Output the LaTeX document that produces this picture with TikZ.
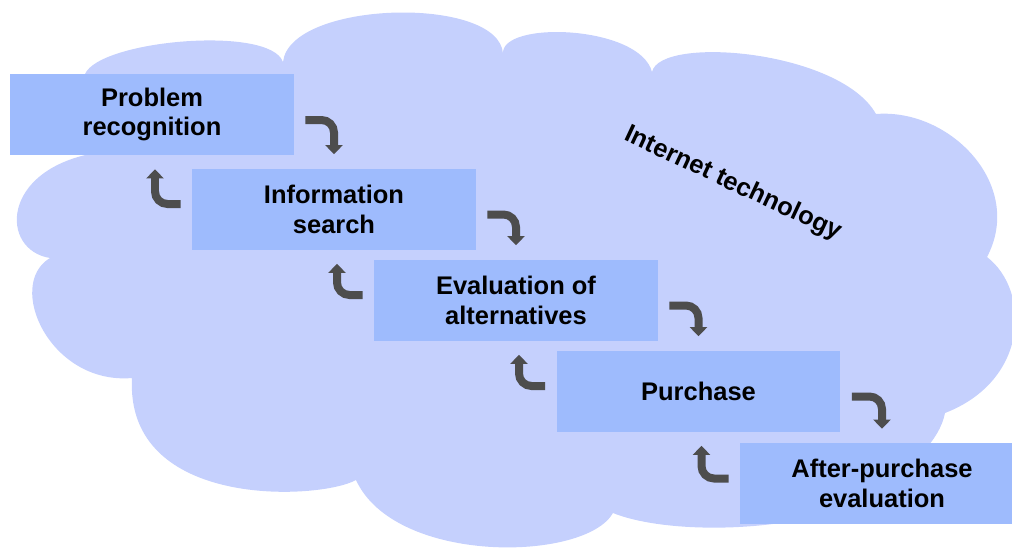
\documentclass[tikz,border=0pt]{standalone}
\usepackage{fontspec}
\setmainfont{Liberation Sans}
\usetikzlibrary{arrows.meta}
\definecolor{cloudblue}{HTML}{C5D0FD}
\definecolor{boxblue}{HTML}{9EBBFD}
\definecolor{arrowgray}{HTML}{4D4D4D}
\begin{document}
\begin{tikzpicture}[x=0.02cm,y=-0.02cm,
  stage/.style={fill=boxblue,minimum width=5.68cm,minimum height=1.62cm,
    inner sep=0pt,align=center,font=\bfseries\fontsize{14.5}{17}\selectfont},
  turn/.style={draw=arrowgray,line width=0.16cm,rounded corners=0.25cm,
    -{Triangle[width=0.34cm,length=0.18cm]}}]
\useasboundingbox (0,0) rectangle (1012,549);
\clip (0,0) rectangle (1012,549);
% cloud
\fill[cloudblue] (85,74) .. controls (100,40) and (270,25) .. (283,62)
  .. controls (290,0) and (500,-5) .. (503,54)
  .. controls (500,20) and (640,25) .. (652,72)
  .. controls (660,35) and (840,50) .. (876,114)
  .. controls (950,108) and (1025,185) .. (987,257)
  .. controls (1030,290) and (1030,380) .. (945,413)
  .. controls (940,440) and (910,470) .. (880,480)
  .. controls (850,530) and (680,540) .. (613,513)
  .. controls (585,562) and (395,565) .. (356,480)
  .. controls (320,500) and (125,510) .. (132,378)
  .. controls (50,385) and (5,285) .. (50,258)
  .. controls (0,250) and (0,170) .. (95,153)
  -- cycle;
\node[rotate=-25,font=\bfseries\fontsize{14.5}{17}\selectfont] (net) at (733,184) {Internet technology};
% stages
\node[stage] (prob) at (152,114.5) {Problem\\recognition};
\node[stage] (info) at (334,209) {Information\\search};
\node[stage] (eval) at (516,300) {Evaluation of\\alternatives};
\node[stage] (purch) at (698.5,391) {Purchase};
\node[stage] (after) at (882,483.5) {After-purchase\\evaluation};
% forward
\draw[turn] ([xshift=0.22cm,yshift=-0.11cm]prob.east) -| ([yshift=0.28cm]info.north);
\draw[turn] ([xshift=0.22cm,yshift=-0.11cm]info.east) -| ([yshift=0.28cm]eval.north);
\draw[turn] ([xshift=0.22cm,yshift=-0.11cm]eval.east) -| ([yshift=0.28cm]purch.north);
\draw[turn] ([xshift=0.22cm,yshift=-0.11cm]purch.east) -| ([yshift=0.28cm]after.north);
% back
\draw[turn] ([xshift=-0.22cm,yshift=0.1cm]info.west) -| ([xshift=0.06cm,yshift=-0.28cm]prob.south);
\draw[turn] ([xshift=-0.22cm,yshift=0.1cm]eval.west) -| ([xshift=0.06cm,yshift=-0.28cm]info.south);
\draw[turn] ([xshift=-0.22cm,yshift=0.1cm]purch.west) -| ([xshift=0.06cm,yshift=-0.28cm]eval.south);
\draw[turn] ([xshift=-0.22cm,yshift=0.1cm]after.west) -| ([xshift=0.06cm,yshift=-0.28cm]purch.south);
\end{tikzpicture}
\end{document}
